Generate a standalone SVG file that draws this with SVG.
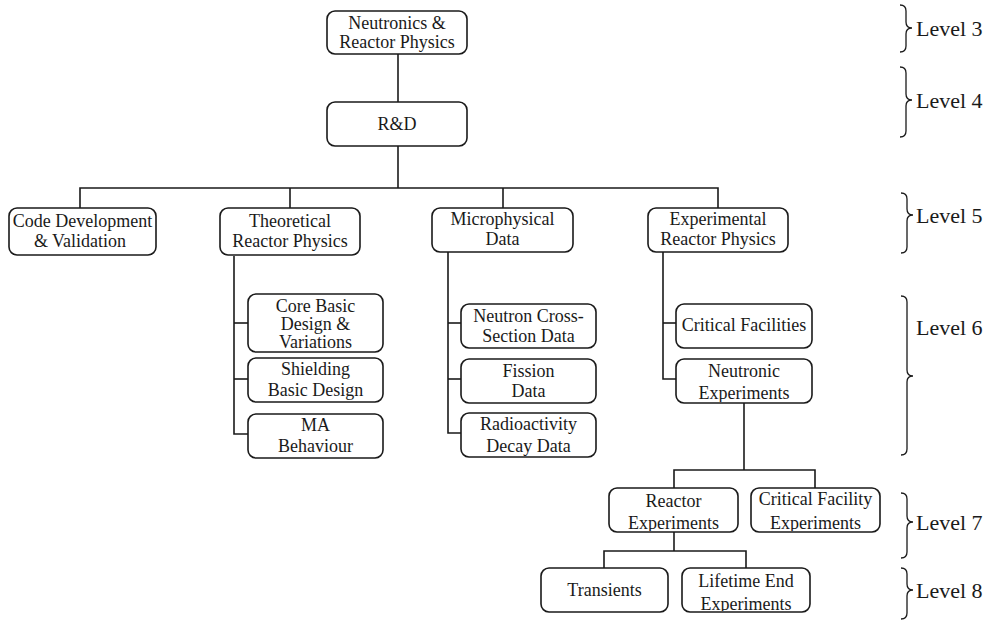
<svg xmlns="http://www.w3.org/2000/svg" width="994" height="620" viewBox="0 0 994 620">
  <style>
    .box { fill: #fff; stroke: #1a1a1a; stroke-width: 1.6; }
    .lbl { font-family: "Liberation Serif", "Times New Roman", serif; font-size: 18px; fill: #1a1a1a; text-anchor: middle; }
    .lvl { font-family: "Liberation Serif", "Times New Roman", serif; font-size: 22px; fill: #1a1a1a; }
    .wire { fill: none; stroke: #1a1a1a; stroke-width: 1.6; }
    .brace { fill: none; stroke: #1a1a1a; stroke-width: 1.3; }
  </style>
  <defs>
    <clipPath id="c-shield"><rect x="249" y="359" width="133" height="42"/></clipPath>
    <clipPath id="c-radio"><rect x="462" y="414" width="133" height="42"/></clipPath>
    <clipPath id="c-neutexp"><rect x="677" y="360" width="134" height="42"/></clipPath>
    <clipPath id="c-reactexp"><rect x="610" y="489" width="127" height="42"/></clipPath>
    <clipPath id="c-critexp"><rect x="752" y="489" width="127" height="42"/></clipPath>
    <clipPath id="c-life"><rect x="683" y="569" width="126" height="42"/></clipPath>
  </defs>

  <rect width="994" height="620" fill="#fff"/>

  <!-- connectors -->
  <g id="connectors" class="wire">
    <path d="M398 54 V102"/>
    <path d="M398 146 V188"/>
    <path d="M80 208 V188 H718 V208"/>
    <path d="M290 188 V208"/>
    <path d="M503 188 V208"/>
    <!-- theoretical branch -->
    <path d="M234 256 V434 H248"/>
    <path d="M234 323 H248"/>
    <path d="M234 379 H248"/>
    <!-- microphysical branch -->
    <path d="M448 252 V433 H461"/>
    <path d="M448 323 H461"/>
    <path d="M448 379 H461"/>
    <!-- experimental branch -->
    <path d="M663 252 V379 H676"/>
    <path d="M663 323 H676"/>
    <!-- neutronic experiments subtree -->
    <path d="M744 403 V470"/>
    <path d="M674 488 V470 H815 V488"/>
    <path d="M674 532 V551"/>
    <path d="M604 568 V551 H746 V568"/>
  </g>

  <!-- level 3 -->
  <g id="n-neutronics">
    <rect class="box" x="327" y="11" width="140" height="43" rx="8"/>
    <text class="lbl" x="397" y="29">Neutronics &amp;</text>
    <text class="lbl" x="397" y="48">Reactor Physics</text>
  </g>

  <!-- level 4 -->
  <g id="n-rd">
    <rect class="box" x="327" y="102" width="140" height="44" rx="8"/>
    <text class="lbl" x="397" y="130">R&amp;D</text>
  </g>

  <!-- level 5 -->
  <g id="n-code">
    <rect class="box" x="9" y="208" width="147" height="47" rx="8"/>
    <text class="lbl" x="82.5" y="227">Code Development</text>
    <text class="lbl" x="80" y="247">&amp; Validation</text>
  </g>
  <g id="n-theoretical">
    <rect class="box" x="220" y="208" width="140" height="47" rx="8"/>
    <text class="lbl" x="290" y="227">Theoretical</text>
    <text class="lbl" x="290" y="247">Reactor Physics</text>
  </g>
  <g id="n-micro">
    <rect class="box" x="432" y="208" width="141" height="44" rx="8"/>
    <text class="lbl" x="502.5" y="225">Microphysical</text>
    <text class="lbl" x="502.5" y="245">Data</text>
  </g>
  <g id="n-experimental">
    <rect class="box" x="648" y="208" width="140" height="44" rx="8"/>
    <text class="lbl" x="718" y="225">Experimental</text>
    <text class="lbl" x="718" y="245">Reactor Physics</text>
  </g>

  <!-- level 6 -->
  <g id="n-core">
    <rect class="box" x="248" y="294" width="135" height="58" rx="8"/>
    <text class="lbl" x="315.5" y="312">Core Basic</text>
    <text class="lbl" x="315.5" y="330">Design &amp;</text>
    <text class="lbl" x="315.5" y="348">Variations</text>
  </g>
  <g id="n-shielding">
    <rect class="box" x="248" y="358" width="135" height="44" rx="8"/>
    <g clip-path="url(#c-shield)">
      <text class="lbl" x="315.5" y="375">Shielding</text>
      <text class="lbl" x="315.5" y="396">Basic Design</text>
    </g>
  </g>
  <g id="n-ma">
    <rect class="box" x="248" y="414" width="135" height="44" rx="8"/>
    <text class="lbl" x="315.5" y="431">MA</text>
    <text class="lbl" x="315.5" y="452">Behaviour</text>
  </g>
  <g id="n-xsec">
    <rect class="box" x="461" y="304" width="135" height="44" rx="8"/>
    <text class="lbl" x="528.5" y="322">Neutron Cross-</text>
    <text class="lbl" x="528.5" y="342">Section Data</text>
  </g>
  <g id="n-fission">
    <rect class="box" x="461" y="359" width="135" height="44" rx="8"/>
    <text class="lbl" x="528.5" y="377">Fission</text>
    <text class="lbl" x="528.5" y="397">Data</text>
  </g>
  <g id="n-decay">
    <rect class="box" x="461" y="413" width="135" height="44" rx="8"/>
    <g clip-path="url(#c-radio)">
      <text class="lbl" x="528.5" y="430">Radioactivity</text>
      <text class="lbl" x="528.5" y="452">Decay Data</text>
    </g>
  </g>
  <g id="n-critical">
    <rect class="box" x="676" y="304" width="136" height="44" rx="8"/>
    <text class="lbl" x="744" y="331">Critical Facilities</text>
  </g>
  <g id="n-neutronic">
    <rect class="box" x="676" y="359" width="136" height="44" rx="8"/>
    <g clip-path="url(#c-neutexp)">
      <text class="lbl" x="744" y="377">Neutronic</text>
      <text class="lbl" x="744" y="399">Experiments</text>
    </g>
  </g>

  <!-- level 7 -->
  <g id="n-reactor-exp">
    <rect class="box" x="609" y="488" width="129" height="44" rx="8"/>
    <g clip-path="url(#c-reactexp)">
      <text class="lbl" x="673.5" y="507">Reactor</text>
      <text class="lbl" x="673.5" y="529">Experiments</text>
    </g>
  </g>
  <g id="n-critfac-exp">
    <rect class="box" x="751" y="488" width="129" height="44" rx="8"/>
    <g clip-path="url(#c-critexp)">
      <text class="lbl" x="815.5" y="505">Critical Facility</text>
      <text class="lbl" x="815.5" y="529">Experiments</text>
    </g>
  </g>

  <!-- level 8 -->
  <g id="n-transients">
    <rect class="box" x="541" y="568" width="127" height="44" rx="8"/>
    <text class="lbl" x="604.5" y="596">Transients</text>
  </g>
  <g id="n-lifetime">
    <rect class="box" x="682" y="568" width="128" height="44" rx="8"/>
    <g clip-path="url(#c-life)">
      <text class="lbl" x="746" y="587">Lifetime End</text>
      <text class="lbl" x="746" y="610">Experiments</text>
    </g>
  </g>

  <!-- level braces and labels -->
  <g id="levels">
    <path class="brace" d="M900 5 Q906 5 906 11 V22 Q906 28 912 28 Q906 28 906 34 V46 Q906 52 900 52"/>
    <text class="lvl" x="916" y="36">Level 3</text>
    <path class="brace" d="M900 67 Q906 67 906 73 V94 Q906 100 912 100 Q906 100 906 106 V131 Q906 137 900 137"/>
    <text class="lvl" x="916" y="108">Level 4</text>
    <path class="brace" d="M901 193 Q907 193 907 199 V209 Q907 215 913 215 Q907 215 907 221 V247 Q907 253 901 253"/>
    <text class="lvl" x="916" y="223">Level 5</text>
    <path class="brace" d="M901 296 Q907 296 907 302 V370 Q907 376 913 376 Q907 376 907 382 V449 Q907 455 901 455"/>
    <text class="lvl" x="916" y="335">Level 6</text>
    <path class="brace" d="M901 493 Q907 493 907 499 V516 Q907 522 913 522 Q907 522 907 528 V552 Q907 558 901 558"/>
    <text class="lvl" x="916" y="530">Level 7</text>
    <path class="brace" d="M901 568 Q907 568 907 574 V584 Q907 590 913 590 Q907 590 907 596 V613 Q907 619 901 619"/>
    <text class="lvl" x="916" y="598">Level 8</text>
  </g>
</svg>
